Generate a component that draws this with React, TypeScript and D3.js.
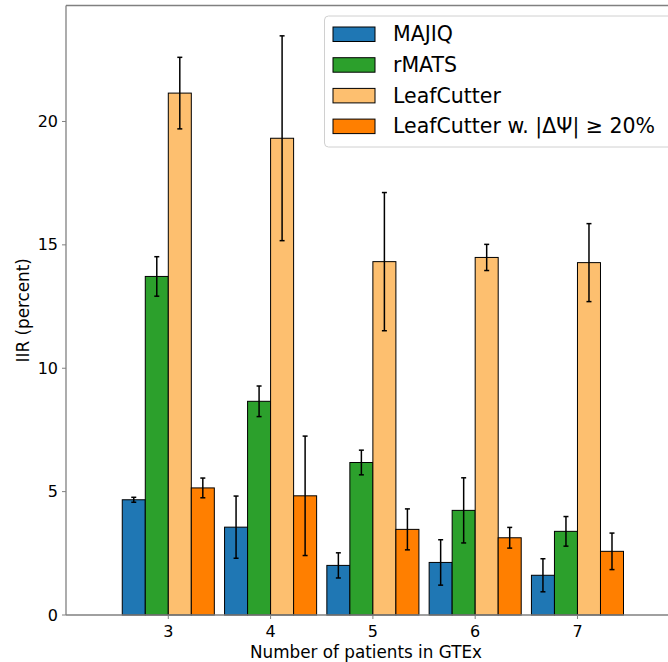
import React from "react";
import * as d3 from "d3";

const categories = [3, 4, 5, 6, 7];
const seriesNames = ["MAJIQ", "rMATS", "LeafCutter", "LeafCutter w. |ΔΨ| ≥ 20%"];
const seriesColors = ["#1f77b4", "#2ca02c", "#fdbf6f", "#ff7f00"];
const majiq = [4.67, 3.56, 2.01, 2.13, 1.61];
const majiqErr = [0.1, 1.26, 0.51, 0.92, 0.67];
const rmats = [13.72, 8.66, 6.18, 4.24, 3.39];
const rmatsErr = [0.8, 0.62, 0.5, 1.32, 0.6];
const leaf = [21.15, 19.32, 14.32, 14.49, 14.28];
const leafErr = [1.45, 4.15, 2.8, 0.53, 1.58];
const leaf20 = [5.15, 4.83, 3.47, 3.13, 2.58];
const leaf20Err = [0.4, 2.42, 0.83, 0.42, 0.74];
const yTicks = [0, 5, 10, 15, 20];

const values = [majiq, rmats, leaf, leaf20];
const errors = [majiqErr, rmatsErr, leafErr, leaf20Err];

export default function App() {
  const W = 668, H = 662;
  const left = 66, right = 668, top = 5.5, bottom = 615;
  const x = d3.scaleLinear().domain([2, 7.885]).range([left, right]);
  const y = d3.scaleLinear().domain([0, 24.7]).range([bottom, top]);
  const bw = 0.225;
  const font = "DejaVu Sans, sans-serif";
  const spine = "#808080";

  return (
    <svg width={W} height={H} style={{ position: "absolute", left: 0, top: 0 }} fontFamily={font}>
      <rect x={0} y={0} width={W} height={H} fill="#fff" />
      {values.map((vals, s) =>
        vals.map((v, i) => {
          const x0 = x(categories[i] + (s - 2) * bw);
          const x1 = x(categories[i] + (s - 1) * bw);
          return (
            <rect key={`b${s}-${i}`} x={x0} y={y(v)} width={x1 - x0} height={y(0) - y(v)}
              fill={seriesColors[s]} stroke="#000" strokeWidth={1} />
          );
        })
      )}
      {values.map((vals, s) =>
        vals.map((v, i) => {
          const cx = x(categories[i] + (s - 1.5) * bw);
          const e = errors[s][i];
          return (
            <g key={`e${s}-${i}`} stroke="#000" strokeWidth={1.5}>
              <line x1={cx} x2={cx} y1={y(v - e)} y2={y(v + e)} />
              <line x1={cx - 2.5} x2={cx + 2.5} y1={y(v - e)} y2={y(v - e)} />
              <line x1={cx - 2.5} x2={cx + 2.5} y1={y(v + e)} y2={y(v + e)} />
            </g>
          );
        })
      )}
      <line x1={left} x2={left} y1={top} y2={bottom} stroke={spine} strokeWidth={1.3} />
      <line x1={left} x2={right} y1={bottom} y2={bottom} stroke={spine} strokeWidth={1.3} />
      <line x1={left} x2={right} y1={top} y2={top} stroke={spine} strokeWidth={1.3} />
      {yTicks.map((t) => (
        <g key={`yt${t}`}>
          <line x1={left - 4} x2={left} y1={y(t)} y2={y(t)} stroke={spine} strokeWidth={1} />
          <text x={left - 8} y={y(t)} dy="0.35em" textAnchor="end" fontSize={16} fill="#000">{t}</text>
        </g>
      ))}
      {categories.map((c) => (
        <g key={`xt${c}`}>
          <line x1={x(c)} x2={x(c)} y1={bottom} y2={bottom + 4} stroke={spine} strokeWidth={1} />
          <text x={x(c)} y={bottom + 22} textAnchor="middle" fontSize={16} fill="#000">{c}</text>
        </g>
      ))}
      <text x={366} y={658} textAnchor="middle" fontSize={16.8} fill="#000">Number of patients in GTEx</text>
      <text transform={`translate(29,${(top + bottom) / 2}) rotate(-90)`} textAnchor="middle" fontSize={16.8} fill="#000">IIR (percent)</text>
      <g>
        <rect x={324.5} y={16} width={360} height={131} rx={4} fill="#fff" fillOpacity={0.8} stroke="#d0d0d0" strokeWidth={1} />
        {seriesNames.map((n, s) => (
          <g key={`lg${s}`}>
            <rect x={333} y={27 + s * 30.7} width={42} height={14.5} fill={seriesColors[s]} stroke="#000" strokeWidth={1} />
            <text x={393} y={34.2 + s * 30.7} dy="0.35em" fontSize={20.5} fill="#000">{n}</text>
          </g>
        ))}
      </g>
    </svg>
  );
}
